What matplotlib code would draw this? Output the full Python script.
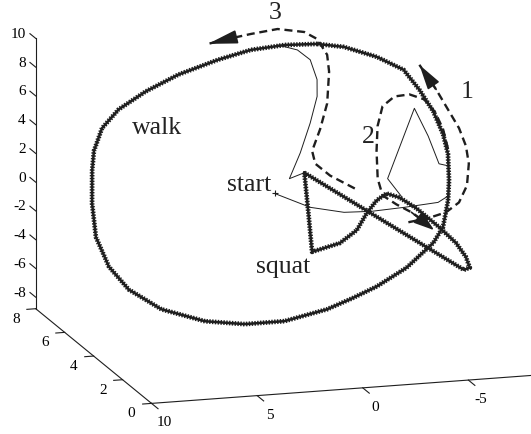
import numpy as np
import matplotlib
matplotlib.use('Agg')
import matplotlib.pyplot as plt
from matplotlib.patches import FancyArrowPatch
from mpl_toolkits.mplot3d import proj3d

plt.rcParams['font.family'] = ['Liberation Serif', 'DejaVu Serif']

INK = '#1e1e1e'

# axis ranges and ticks
x_lim = (10, -10)
y_lim = (0, 8)
z_lim = (-8.8, 10)
x_ticks = [10, 5, 0, -5]
y_ticks = [0, 2, 4, 6, 8]
z_ticks = [-8, -6, -4, -2, 0, 2, 4, 6, 8, 10]

# walk cycle (closed loop)
walk_x = [-2.75, -3.97, -5.39, -6.48, -6.95, -7.31, -7.46, -7.42, -7.10, -6.78,
          -6.17, -5.49, -3.88, -2.21, -0.87, 0.46, 2.64, 4.56, 6.40, 8.30,
          9.57, 9.96, 9.96, 9.80, 9.66, 9.30, 8.60, 7.55, 6.03, 4.25,
          2.17, 0.48, -1.19, -2.75]
walk_y = [7.16, 7.10, 6.90, 6.64, 6.24, 5.80, 5.34, 4.94, 4.40, 4.00,
          3.46, 3.14, 2.64, 2.26, 2.02, 1.80, 1.56, 1.50, 1.56, 1.80,
          2.20, 3.00, 3.90, 4.40, 4.60, 5.00, 5.46, 5.84, 6.20, 6.54,
          6.84, 7.04, 7.14, 7.16]
walk_z = [8.93, 8.64, 7.96, 7.16, 6.06, 4.87, 3.65, 2.60, 1.22, 0.21,
          -1.14, -1.90, -3.04, -3.85, -4.34, -4.77, -5.16, -5.11, -4.76, -3.92,
          -2.74, -1.77, -0.45, 1.47, 3.56, 4.57, 5.70, 6.58, 7.36, 8.06,
          8.62, 8.96, 9.04, 8.93]

# squat cycle (closed loop)
squat_x = [-0.36, 0.00, 0.37, -1.07, -2.05, -2.75, -3.40, -3.96, -4.52, -5.17,
           -5.99, -6.57, -6.84, -6.88, -6.57, -0.36]
squat_y = [4.56, 3.76, 2.96, 3.14, 3.40, 3.74, 4.00, 4.14, 4.06, 3.84,
           3.46, 3.14, 2.86, 2.64, 2.60, 4.56]
squat_z = [2.37, 0.32, -1.74, -1.43, -0.85, -0.03, 0.58, 0.88, 0.61, -0.03,
           -1.12, -2.02, -2.78, -3.36, -3.44, 2.37]

# start -> walk
start_x = [1.34, -0.16, -1.69, -3.01, -4.62, -6.28, -6.89]
start_y = [4.14, 3.86, 3.76, 3.78, 3.86, 3.96, 4.10]
start_z = [1.46, 0.56, 0.13, 0.04, 0.08, 0.16, 0.46]

# walk -> squat
w2s_x = [-7.26, -6.86, -6.73, -6.46, -4.22, -4.63]
w2s_y = [4.70, 4.74, 5.30, 5.86, 4.44, 4.08]
w2s_z = [1.99, 2.14, 3.62, 5.12, 1.64, 0.65]

# squat -> walk
s2w_x = [-0.36, 0.43, -0.44, -1.32, -2.02, -2.25, -2.20, -1.73, -0.86]
s2w_y = [4.56, 4.44, 4.96, 5.56, 6.10, 6.44, 6.84, 7.04, 7.14]
s2w_z = [2.37, 2.14, 3.41, 4.89, 6.23, 7.10, 8.15, 8.72, 9.08]

# direction arrows 1, 2, 3 (last point is the arrow tip)
dir1_x = [-4.60, -5.59, -6.52, -7.27, -7.88, -8.27, -8.38, -8.30, -8.06, -7.75, -7.30]
dir1_y = [3.56, 3.64, 3.76, 3.96, 4.30, 4.74, 5.10, 5.46, 5.80, 6.24, 6.74]
dir1_z = [-0.71, -0.60, -0.39, 0.05, 0.88, 1.99, 2.92, 3.87, 4.79, 5.98, 7.33]

dir2_x = [-7.49, -7.53, -7.39, -7.05, -6.42, -5.68, -4.98, -4.47, -4.08, -3.75,
          -3.75, -4.28, -4.88, -5.36, -5.71]
dir2_y = [5.04, 5.44, 5.78, 6.04, 6.14, 6.10, 5.90, 5.50, 5.00, 4.44,
          4.10, 3.92, 3.76, 3.58, 3.40]
dir2_z = [2.86, 3.90, 4.81, 5.53, 5.86, 5.83, 5.39, 4.39, 3.12, 1.69,
          0.80, 0.27, -0.21, -0.74, -1.25]

dir3_x = [-2.53, -1.54, -1.00, -1.03, -1.71, -2.40, -2.93, -3.07, -2.82, -2.30,
          -1.08, 0.26, 1.41, 2.42]
dir3_y = [4.24, 4.50, 4.74, 5.00, 5.44, 5.96, 6.60, 6.94, 7.26, 7.40,
          7.46, 7.36, 7.26, 7.16]
dir3_z = [1.30, 2.09, 2.78, 3.45, 4.53, 5.82, 7.44, 8.32, 9.18, 9.61,
          9.90, 9.78, 9.64, 9.49]

labels = ['walk', 'start', 'squat', '1', '2', '3']
label_x = [6.00, 2.40, 1.90, -9.16, -3.89, -1.20]
label_y = [5.46, 4.34, 2.70, 6.18, 5.28, 7.80]
label_z = [5.40, 2.00, -2.40, 5.69, 3.85, 10.75]


class Arrow3D(FancyArrowPatch):
    def __init__(self, xs, ys, zs, **kw):
        super().__init__((0, 0), (0, 0), **kw)
        self._xyz = (xs, ys, zs)

    def do_3d_projection(self, renderer=None):
        xs, ys, zs = proj3d.proj_transform(*self._xyz, self.axes.M)
        self.set_positions((xs[0], ys[0]), (xs[1], ys[1]))
        return np.min(zs)


def thick(ax, xs, ys, zs):
    ax.plot(xs, ys, zs, color=INK, lw=1.8)
    ax.plot(xs, ys, zs, color=INK, lw=3.4, ls=(0, (0.3, 0.3)))


def dashed(ax, xs, ys, zs, back, head):
    ax.plot(xs, ys, zs, color=INK, lw=1.7, ls=(0, (3.4, 2.0)))
    arr = Arrow3D([xs[-1 - back], xs[-1]], [ys[-1 - back], ys[-1]],
                  [zs[-1 - back], zs[-1]],
                  arrowstyle='-|>,head_length=%s,head_width=0.3' % head,
                  mutation_scale=14, color=INK, lw=1.2,
                  shrinkA=0, shrinkB=0)
    ax.add_artist(arr)


fig = plt.figure(figsize=(5.31, 4.34), dpi=100)
ax = fig.add_axes([-0.04482, -0.23041, 1.20527, 1.47465],
                  projection='3d', proj_type='ortho')
ax.set_box_aspect((444.8, 406.4, 281.2), zoom=1.0)
ax.view_init(elev=14.2, azim=-106.7)
ax.set_xlim(*x_lim)
ax.set_ylim(*y_lim)
ax.set_zlim(*z_lim)
ax.set_xticks([])
ax.set_yticks([])
ax.set_zticks([])
ax.set_axis_off()

M = ax.get_proj()


def label(x, y, z, s, **kw):
    # text placed at the projected point of a 3d position
    px, py, _ = proj3d.proj_transform(x, y, z, M)
    ax.text2D(px, py, s, transform=ax.transData, **kw)


# axes drawn as plain lines, matlab style
x0, y0, z0 = x_lim[0], y_lim[0], z_lim[0]
ax.plot([x0, x_lim[1]], [y0, y0], [z0, z0], color=INK, lw=0.8)
ax.plot([x0, x0], [y0, y_lim[1]], [z0, z0], color=INK, lw=0.8)
ax.plot([x0, x0], [y_lim[1], y_lim[1]], [z0, z_lim[1]], color=INK, lw=0.8)
for t in x_ticks:
    ax.plot([t, t], [y0, y0 - 0.45], [z0, z0], color=INK, lw=0.8)
    label(t, y0 - 0.89, z0 - 0.62, str(t), ha='center', va='center', fontsize=11)
for t in y_ticks:
    ax.plot([x0, x0 + 0.42], [t, t], [z0, z0], color=INK, lw=0.8)
    label(x0 + 0.94, t, z0 - 0.62, str(t), ha='center', va='center', fontsize=11)
for t in z_ticks:
    ax.plot([x0, x0], [y_lim[1], y_lim[1] + 0.4], [t, t], color=INK, lw=0.8)
    label(x0, y_lim[1] + 0.685, t - 0.29, str(t), ha='right', va='center', fontsize=11)

thick(ax, walk_x, walk_y, walk_z)
thick(ax, squat_x, squat_y, squat_z)
ax.plot(start_x, start_y, start_z, color=INK, lw=0.7)
ax.plot(start_x[:1], start_y[:1], start_z[:1], marker='+', ms=5, mew=0.8, color=INK)
ax.plot(w2s_x, w2s_y, w2s_z, color=INK, lw=0.7)
ax.plot(s2w_x, s2w_y, s2w_z, color=INK, lw=0.7)

dashed(ax, dir1_x, dir1_y, dir1_z, 1, 1.1)
dashed(ax, dir2_x, dir2_y, dir2_z, 2, 0.9)
dashed(ax, dir3_x, dir3_y, dir3_z, 1, 1.3)

for s, lx, ly, lz in zip(labels, label_x, label_y, label_z):
    label(lx, ly, lz, s, ha='center', va='center', fontsize=18.5, color='#222222')

fig.savefig('out.png', dpi=100)
